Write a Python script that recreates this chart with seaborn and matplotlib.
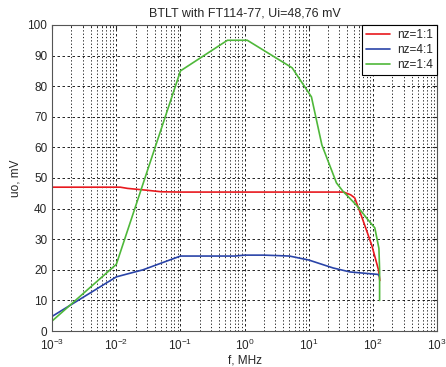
import numpy as np
import seaborn as sns
import matplotlib.pyplot as plt
from matplotlib.ticker import LogLocator, NullFormatter, MultipleLocator

sns.set_style("white")
plt.rcParams['font.family'] = ['Liberation Sans', 'DejaVu Sans']
plt.rcParams['mathtext.fontset'] = 'custom'
plt.rcParams['mathtext.rm'] = 'Liberation Sans'
plt.rcParams['mathtext.it'] = 'Liberation Sans'

# frequency, MHz / output voltage, mV
f_11 = [0.001, 0.0115, 0.015, 0.03, 0.05, 0.1, 1.0, 10.0, 35.0, 45.0, 52.0, 67.0, 96.0, 122.0, 128.0]
u_11 = [47.0, 47.0, 46.6, 46.0, 45.5, 45.4, 45.4, 45.4, 45.4, 44.5, 43.5, 37.3, 28.0, 20.0, 16.5]

f_41 = [0.001, 0.01, 0.026, 0.1, 0.7, 1.0, 2.0, 5.0, 10.0, 24.0, 44.0, 120.0, 125.0]
u_41 = [4.8, 17.7, 20.0, 24.5, 24.5, 24.8, 24.8, 24.5, 23.2, 20.6, 19.3, 18.5, 18.0]

f_14 = [0.001, 0.01, 0.1, 0.54, 1.1, 5.5, 11.0, 16.0, 27.0, 34.0, 56.0, 79.0, 107.0, 124.0, 127.0, 127.0]
u_14 = [3.3, 21.8, 85.0, 95.0, 95.0, 86.0, 76.5, 60.8, 48.4, 45.7, 41.0, 37.0, 33.7, 27.0, 20.0, 10.0]

x_ticks = [1e-3, 1e-2, 1e-1, 1e0, 1e1, 1e2, 1e3]
x_ticklabels = ["$10^{-3}$", "$10^{-2}$", "$10^{-1}$", "$10^{0}$", "$10^{1}$", "$10^{2}$", "$10^{3}$"]

series = [("nz=1:1", f_11, u_11, "#e8191e"),
          ("nz=4:1", f_41, u_41, "#2a44a8"),
          ("nz=1:4", f_14, u_14, "#4fb83a")]

fig = plt.figure(figsize=(4.46, 3.67), dpi=100)
ax = fig.add_axes([0.117, 0.098, 0.863, 0.834])

for name, fx, uy, col in series:
    sns.lineplot(x=fx, y=uy, ax=ax, color=col, lw=1.2, label=name,
                 sort=False, estimator=None)

ax.set_xscale('log')
ax.set_xlim(1e-3, 1e3)
ax.set_ylim(0, 100)
ax.yaxis.set_major_locator(MultipleLocator(10))
ax.set_xticks(x_ticks)
ax.set_xticklabels(x_ticklabels)
ax.xaxis.set_minor_locator(LogLocator(base=10, subs=np.arange(2, 10), numticks=20))
ax.xaxis.set_minor_formatter(NullFormatter())

ax.grid(True, which='major', color='black', ls=(0, (3, 3)), lw=0.6)
ax.grid(True, which='minor', axis='x', color='black', ls=(0, (1.5, 2.5)), lw=0.6)
ax.tick_params(which='both', direction='in', top=True, right=True, labelsize=8.5, length=3)
ax.tick_params(axis='x', pad=5)
ax.tick_params(which='minor', length=1.5)
for s in ax.spines.values():
    s.set_color('#555555')
    s.set_linewidth(0.8)

ax.set_title("BTLT with FT114-77, Ui=48,76 mV", fontsize=9, pad=6)
ax.set_xlabel("f, MHz", fontsize=8.5, labelpad=1)
ax.set_ylabel("uo, mV", fontsize=8.5, labelpad=4)

leg = ax.legend(loc='upper right', fontsize=8.5, fancybox=False, framealpha=1,
                edgecolor='black', borderaxespad=0, handlelength=2.0, borderpad=0.35,
                labelspacing=0.25, handletextpad=0.6)
leg.get_frame().set_linewidth(0.8)

plt.savefig("out.png", dpi=100)
